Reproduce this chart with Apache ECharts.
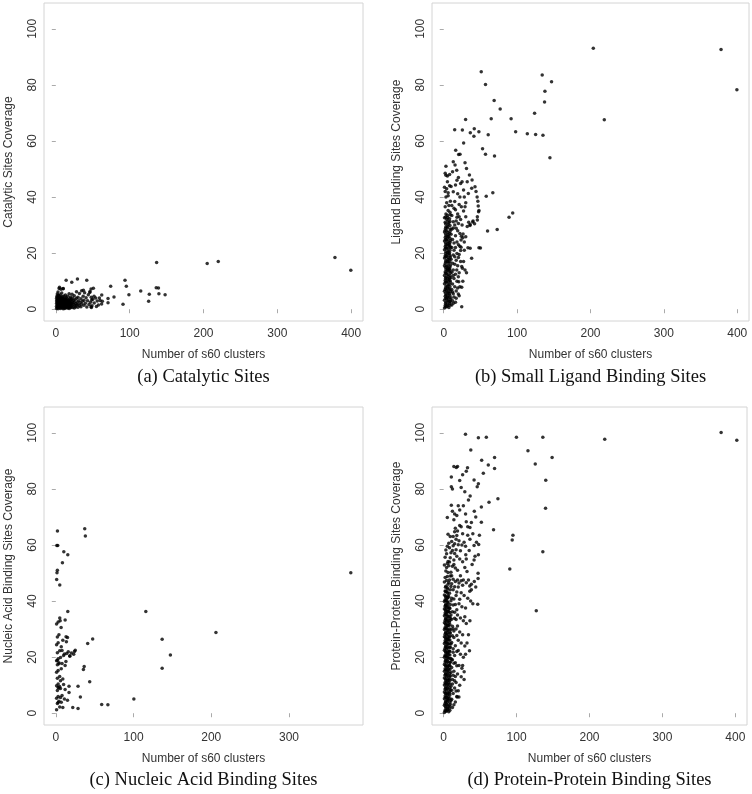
<!DOCTYPE html>
<html><head><meta charset="utf-8">
<script src="https://cdn.jsdelivr.net/npm/echarts@6/dist/echarts.min.js"></script>
<style>html,body{margin:0;padding:0;background:#fff}#c{width:752px;height:794px}</style>
</head><body><div id="c"></div>
<script>
// ---------- data ----------
const xTicksFull = [0, 100, 200, 300, 400];
const xTicksNucleic = [0, 100, 200, 300];
const yTicks = [0, 20, 40, 60, 80, 100];
const xAxisTitle = 'Number of s60 clusters';
const yTitles = ['Catalytic Sites Coverage', 'Ligand Binding Sites Coverage', 'Nucleic Acid Binding Sites Coverage', 'Protein-Protein Binding Sites Coverage'];
const captions = ['(a) Catalytic Sites', '(b) Small Ligand Binding Sites', '(c) Nucleic Acid Binding Sites', '(d) Protein-Protein Binding Sites'];

const catalyticPoints = [
[378,18.4],[399.5,13.9],[205,16.3],[220,17],[136.5,16.7],[93.7,10.3],[95.5,8.2],[99,5.2],[91,1.8],[74.3,8.2],[78.8,4.4],[70.7,3.8],[70.7,2.3],[115,6.5],[126.6,5.3],[125.7,2.8],[136,7.7],[139,7.6],[139.6,5.5],[148,5.2],[63,2.8],[57.7,1.5],[59,4],[51.8,4.6],[47.7,7.2],[50.9,7.5],[41.9,10.3],[29.3,10.8],[14,10.3],[21.6,9.6],[4.5,7.4],[9.9,7.3],[48.2,0.6],[37.4,6.8],[46.3,6.3],[62.2,5.1],[47.7,0.9],[48.6,3.3],
[1,0.3],[1,1.1],[1,2.0],[1,2.9],[1,3.8],[1.5,4.6],[2,0.6],[2,1.5],[2,2.4],[2,3.3],[2,4.2],[2,5.4],[3,0.2],[3,1.0],[3,1.9],[3,2.8],[3,3.7],[3,4.9],[3,6.1],[4,0.5],[4,1.4],[4,2.3],[4,3.1],[4,4.0],[4,5.0],[5,0.8],[5,1.7],[5,2.6],[5,3.5],[5,4.4],[5,7.8],[6,0.3],[6,1.2],[6,2.1],[6,3.0],[6,3.9],[6,5.2],[7,0.7],[7,1.6],[7,2.5],[7,3.4],[7,4.3],[7,7.1],[8,0.4],[8,1.3],[8,2.2],[8,3.1],[8,4.0],[8,5.8],[9,0.9],[9,1.8],[9,2.7],[9,3.6],[9,4.5],[10,0.2],[10,1.1],[10,2.0],[10,2.9],[10,3.8],[10,7.4],[11,0.6],[11,1.5],[11,2.4],[11,3.3],[11,4.7],[12,0.3],[12,1.2],[12,2.1],[12,3.0],[12,3.9],[13,0.8],[13,1.7],[13,2.6],[13,3.5],[13,5.1],[14,0.5],[14,1.4],[14,2.3],[14,3.2],[14,4.2],[15,0.9],[15,1.9],[15,2.8],[15,3.7],[16,0.4],[16,1.3],[16,2.2],[16,3.1],[16,4.6],[17,0.7],[17,1.6],[17,2.5],[17,3.4],[18,0.3],[18,1.1],[18,2.0],[18,2.9],[18,5.5],[19,0.8],[19,1.7],[19,2.6],[19,3.8],[20,0.5],[20,1.4],[20,2.3],[20,3.3],[20,4.4],
[21,0.9],[21,2.1],[21,3.6],[22,1.4],[22,2.8],[22,5.3],[23,0.6],[23,2.2],[23,4.0],[24,1.7],[24,3.1],[25,0.4],[25,2.5],[25,4.8],[26,1.2],[26,3.4],[27,0.8],[27,2.0],[28,1.5],[28,3.9],[28,6.2],[29,2.6],[30,0.7],[30,1.8],[30,4.3],[31,3.0],[32,1.3],[32,5.6],[33,2.4],[34,0.9],[34,3.7],[35,1.9],[35,6.6],[36,2.8],[37,4.6],[38,1.4],[38,3.2],[39,5.9],[40,2.1],[41,4.1],[42,0.8],[43,3.0],[44,5.2],[45,1.7],[46,6.0],[47,2.5],[48,4.3],[49,1.2],[50,3.6],[52,2.2],[54,4.0],[55,1.0],[56,2.9],[60,3.1],[62,1.9]
];

const ligandPoints = [
[203.8,93.1],[377.9,92.6],[399.5,78.3],[218.8,67.6],[134.2,83.5],[146.9,81.1],[137.9,77.7],[137.4,73.9],[123.8,69.9],[113.9,62.6],[125.2,62.3],[135.2,62],[144.7,54],[98,63.3],[91.8,67.9],[94,34.3],[89,32.8],[72.8,28.4],[59.7,27.9],[66.9,41.5],[57.9,40.3],[51.1,84.7],[56.9,80.1],[68.7,74.4],[76.9,71.4],[64.7,67.9],[60.6,62.2],[69.2,54.6],[56.9,55.3],[52.9,57.2],[47.9,63.3],[41.6,64.4],[41.1,61.7],[36.2,62.9],[25.4,63.9],[14.9,64],[29.8,67.7],[27.1,59.3],[16.3,56.7],[20.3,55.2],
[22.2,55.3],[13,52.6],[15.4,51.4],[17.7,49.6],[29,52.2],[31,50.2],[35,47.9],[38.6,46.1],[38.1,43.1],[33.5,41.3],[42.6,43.7],[44,42],[45.5,40],[46.5,38.5],[47,36.8],[48,35.2],[47.5,34.8],[45.8,33],[45.8,31.8],[39.5,31.1],[35.8,29.9],[33,21.9],[36,21.7],[38,18.2],[26.3,26.8],[23.6,24.7],[23.6,22.1],[23,20.9],[24.5,15.2],[25.5,14.6],[17.7,14],[19.9,11.6],[20.5,9.8],[24.5,7.8],[8.6,2.7],[13.1,2.1],[24.5,0.9],[19.9,5.4],[50,21.8],[48,21.9],[42,30.5],[40,31.5],[30,33],[28,40],[27,42.5],[25,45.5],[32,45.5],[30,38],[22,40],[20,47],[18,46],[12,49],[8,48],[3,51],[5,47.5],[4,43],[2,42],[6,40.5],[9,38.5],[11,37],[14,36],[16,35.5],[19,34],[21,33],[17,31.5],[15,30],[13,29],[11,28.5],[19,28],[22,27],[24,26],[26,25.5],[18,24],[20,23],[16,22],[14,21],[21,19.5],[23,17],[17,17.5],[15,16],[19,15.5],[13,14],[16,12.5],[14,11],[18,10],[12,9],[15,8],[11,7],[17,6.5],[13,5.5],[10,4],[12,3],[16,2.5],[28,24],[30,25.8],[32,29.5],[34,31],[36,30.2],[27,17],[29,14],[31,13],[21,13],[26,10],[22,8],[28,21],[25,30],[23,32],[27,35],[29,36.5],
[11,33.4],[13,31.2],[10,26.7],[12,24.9],[14,23.6],[11,22.0],[13,19.3],[10,17.8],[12,16.4],[11,13.2],[13,12.0],[10,11.3],[12,6.1],[14,4.4],[11,1.5],[15,18.7],[16,26.2],[17,28.9],[18,32.8],[20,30.6],[15,38.4],[13,41.9],[10,43.8],[16,44.3],[19,41.2],[21,37.3],[23,44.8],[24,36.5],[22,22.5],[20,18.4],[18,19.9],[19,7.6],[17,3.9],[21,4.8],
[1,0.4],[2,1.3],[3,2.5],[1,3.2],[2,4.6],[3,5.1],[1,6.4],[2,7.0],[3,8.3],[1,9.1],[2,10.2],[3,11.4],[1,12.0],[2,13.3],[3,14.1],[1,15.5],[2,16.2],[3,17.4],[1,18.3],[2,19.1],[3,20.5],[1,21.2],[2,22.4],[3,23.0],[1,24.3],[2,25.6],[3,26.1],[1,27.5],[2,28.2],[3,29.4],[2,31.0],[1,32.6],[3,34.0],
[4,0.9],[5,1.8],[6,2.9],[4,3.7],[5,4.3],[6,5.8],[4,6.8],[5,7.6],[6,8.7],[4,9.6],[5,10.9],[6,11.8],[4,12.7],[5,13.8],[6,14.6],[4,15.2],[5,16.8],[6,17.7],[4,18.9],[5,19.6],[6,20.8],[4,21.7],[5,22.9],[6,23.5],[4,24.8],[5,25.2],[6,26.6],[4,27.9],[5,29.0],[6,30.3],[4,32.1],[5,33.5],[6,35.2],
[7,0.6],[8,2.0],[9,3.4],[7,4.1],[8,5.5],[9,6.2],[7,7.3],[8,8.9],[9,9.7],[7,10.6],[8,11.1],[9,12.9],[7,13.5],[8,14.4],[9,15.7],[7,16.5],[8,17.9],[9,18.6],[7,19.8],[8,20.1],[9,21.9],[7,22.7],[8,23.3],[9,24.5],[7,25.9],[8,27.0],[9,28.6],[7,30.8],[8,32.3],[9,33.7],
[2,36.5],[4,38],[7,37],[3,40],[6,41.5],[1,43.5],[8,44],[5,45.5],[3,47.8],[2,48.5],
[2.5,0.9],[5.5,1.2],[8.5,1.4],[2.5,2.0],[5.5,3.0],[8.5,2.7],[2.5,3.9],[5.5,5.0],[8.5,4.8],[2.5,5.7],[5.5,6.2],[8.5,6.9],[2.5,7.6],[5.5,8.2],[8.5,8.0],[2.5,9.7],[5.5,9.9],[8.5,10.2],[2.5,11.0],[5.5,12.3],[8.5,12.0],[2.5,12.8],[5.5,14.3],[8.5,13.9],[2.5,14.9],[5.5,15.6],[8.5,15.1],[2.5,16.8],[5.5,17.1],[8.5,16.9],[2.5,18.7],[5.5,18.4],[8.5,19.2],[2.5,19.9],[5.5,20.3],[8.5,21.0],[2.5,21.8],[5.5,21.7],[8.5,22.5],[2.5,23.6],[5.5,24.2],[8.5,23.9],[2.5,24.9],[5.5,26.0],[8.5,25.3],[2.5,26.8],[5.5,27.4],[8.5,27.8],[2.5,28.9],[5.5,29.6],[8.5,29.9],[2.5,30.5],[5.5,31.5],[8.5,31.3],[2.5,32.9],[5.5,32.7],[8.5,34.6]
];

const nucleicPoints = [
[379.5,50.1],[115.8,36.3],[136.8,26.4],[136.8,16],[147.4,20.8],[206,28.8],[100.4,5.1],[59,3.1],[67,3],[37.2,65.8],[38,63.2],[47.4,26.5],[41,24.9],[36.5,16.7],[35.5,15.6],[43.6,11.2],[31.6,5.8],[28.6,9.6],[28.6,1.7],[21.8,2],[17,9.6],[17,7.4],[15,4.6],[9,2],[15.4,36.3],[12,33.2],[13.2,27.3],[13.6,25.5],[6.8,30.6],[5.1,34],[5.6,33],[2.1,65],[1.3,59.8],[2.5,59.8],[10.3,57.6],[15.4,56.5],[8.5,53.7],[2,51],[1.5,50.1],[1.1,47.7],[5.1,45.7],[20,21.5],[23,21],[24,22],[18,20.5],[25,22.5],
[1,1.2],[2,3.5],[1,5.3],[3,6.0],[2,8.1],[4,9.0],[1,9.8],[3,10.4],[2,12.5],[5,13.1],[1,14.6],[3,15.2],[2,17.3],[4,18.0],[1,18.7],[3,19.4],[6,19.9],[2,21.6],[5,22.3],[1,24.4],[3,25.1],[2,27.2],[4,28.0],[1,31.8],[3,32.5],[7,3.9],[8,6.3],[6,8.8],[9,12.2],[7,15.9],[8,17.7],[10,20.6],[11,21.1],[7,23.7],[9,26.0],[12,17.0],[13,18.4],[14,21.3],[11,5.1],[12,8.5],[10,10.2],[6,11.6],[5,2.2],[4,4.3],[16,21.9],[18,20.3],[15,27.0],[3,9.2],[5,9.5],[2,18.9],[4,17.6],[6,5.6],[3,3.8],[8,22.4]
];

const proteinPoints = [
[380.5,100.1],[402,97.3],[220.9,97.7],[136,98.4],[99.8,98.4],[58.5,98.4],[47.6,98.2],[29.9,99.5],[115.6,93.6],[125.6,88.9],[148.7,91.2],[140,83.1],[139.7,73.1],[136,57.6],[127,36.5],[90.7,51.4],[94,61.8],[95,63.5],[74.4,76.5],[62.2,75.2],[68.4,65.4],[69.8,91.2],[69.8,87.3],[61.2,88.5],[54.4,85.6],[52.1,90.2],[51.7,73.5],[51.7,68.1],[48,60.2],[49,63.5],[47.6,56.5],[47.2,49.9],[47.2,48],[46.7,38.9],[37.2,93.9],[32.7,87.5],[31,86.3],[41.7,83.2],[47.6,81.8],[46,80.8],[36.3,77.5],[31,68.3],[33,66.5],[36,66.2],[41.7,59.8],[41.7,54.6],[30.3,56.5],[31,55],[35.8,45.4],[35.8,43.5],[35.4,22.3],[29,34.4],[28.1,14.8],[20.9,5.8],[18.5,5.8],[17.3,87.6],[19,88],[10.5,84.2],[10.5,80.8],[10.5,74.2],[5,69.8],
[12,72],[15,71],[18,70.5],[14,69],[20,74],[22,72.5],[16,66],[19,65],[24,66.5],[26,64],[13,63],[17,62],[21,61.5],[25,60],[28,61],[30,59.5],[33,63.5],[36,62],[12,58],[15,57],[18,56],[22,55],[26,54],[29,52],[32,50.5],[14,53],[19,51],[23,49],[27,47.5],[31,46.5],[34,47.5],[38,46],[11,49],[16,47],[20,45],[24,43],[28,42],[33,41],[37,40],[13,44],[17,42],[21,39],[25,38],[30,37.5],[15,36],[19,35],[23,34],[27,33],[31,32],[12,31],[17,30],[22,29],[26,28],[14,27],[20,26],[24,25],[29,24],[13,23],[18,22],[23,21],[27,20],[11,19],[16,18],[21,17],[25,16],[14,15],[19,14],[24,13],[12,12],[17,11],[22,10],[15,9],[20,8],[13,7],[18,6],[11,5],[16,4],[14,3],[12,2],[40,39],[36,33],[34,28],[32,25],[30,21],[26,17],[28,12],[38,44],[42,47],[44,45],[39,53],[43,56],[35,58],[45,61],[40,64],[38,68],[44,70],[42,72],[30,71],[27,74],[34,76],[29,79],[24,80.5],[22,83],[26,85],[14,88],[12,80],
[11,46.2],[13,47.8],[15,45.1],[12,52.4],[14,54.6],[16,51.8],[13,59.7],[11,61.2],[15,60.4],[17,58.3],[19,47.5],[21,46.4],[18,43.2],[11,41.0],[13,38.6],[12,36.2],[11,33.5],[13,30.1],[12,27.6],[11,25.2],[13,21.7],[12,19.1],[11,16.3],[13,13.5],[12,10.4],[11,8.2],[14,40.7],[16,38.8],[15,33.9],[14,29.3],[16,24.1],[15,20.6],[14,17.8],[16,13.1],[15,11.6],[17,7.9],[18,36.9],[17,33.4],[19,31.1],[18,27.7],[20,22.4],[18,16.9],[22,40.6],[24,47.2],[26,45.6],[23,57.9],[20,60.1],[18,63.4],[22,66.9],[15,64.7],
[1,0.3],[2,1.1],[3,1.9],[1,2.8],[2,3.5],[3,4.4],[1,5.2],[2,6.1],[3,6.9],[1,7.6],[2,8.5],[3,9.4],[1,10.1],[2,11.0],[3,11.7],[1,12.6],[2,13.5],[3,14.2],[1,15.0],[2,15.9],[3,16.8],[1,17.4],[2,18.3],[3,19.2],[1,20.0],[2,20.7],[3,21.6],[1,22.5],[2,23.2],[3,24.1],[1,24.9],[2,25.8],[3,26.5],[1,27.3],[2,28.2],[3,29.0],[1,29.9],[2,30.6],[3,31.5],[1,32.3],[2,33.1],[3,34.0],[1,34.8],[2,35.7],[3,36.4],[1,37.2],[2,38.1],[3,38.9],[1,39.8],[2,40.5],[3,41.4],[1,42.2],[2,43.6],[3,45.3],[1,46.8],[2,48.4],[3,50.7],[1,52.9],[2,55.6],[3,58.2],
[4,0.8],[5,1.6],[6,2.4],[4,3.3],[5,4.0],[6,4.9],[4,5.7],[5,6.5],[6,7.3],[4,8.1],[5,9.0],[6,9.8],[4,10.6],[5,11.4],[6,12.3],[4,13.0],[5,13.9],[6,14.7],[4,15.5],[5,16.3],[6,17.2],[4,18.0],[5,18.8],[6,19.7],[4,20.4],[5,21.2],[6,22.1],[4,22.9],[5,23.7],[6,24.6],[4,25.3],[5,26.2],[6,27.0],[4,27.8],[5,28.7],[6,29.5],[4,30.3],[5,31.1],[6,32.0],[4,32.8],[5,33.6],[6,34.5],[4,35.3],[5,36.1],[6,37.0],[4,37.7],[5,38.6],[6,39.4],[4,40.2],[5,41.0],[6,42.0],[4,43.2],[5,44.7],[6,46.0],[4,47.3],[5,48.8],[6,50.2],[4,52.0],[5,53.4],[6,54.1],[4,56.9],[5,59.5],
[7,0.5],[8,1.9],[9,3.2],[10,4.5],[7,5.9],[8,7.1],[9,8.4],[10,9.6],[7,10.9],[8,12.1],[9,13.4],[10,14.6],[7,15.8],[8,17.0],[9,18.2],[10,19.5],[7,20.9],[8,22.2],[9,23.5],[10,24.7],[7,26.0],[8,27.2],[9,28.5],[10,29.8],[7,31.2],[8,32.5],[9,33.8],[10,35.0],[7,36.3],[8,37.6],[9,38.8],[10,40.1],[7,41.5],[8,42.8],[9,44.0],[10,45.2],[7,46.6],[8,47.5],[9,48.9],[10,50.3],[7,52.6],[8,53.9],[9,55.4],[10,57.2],[8,59.0],[7,60.6],[9,63.0],[6,63.8],
[2.5,0.7],[5.5,1.2],[8.5,1.1],[2.5,2.4],[5.5,2.9],[8.5,2.6],[2.5,4.0],[5.5,4.6],[8.5,3.9],[2.5,5.6],[5.5,5.3],[8.5,5.2],[2.5,7.1],[5.5,6.9],[8.5,6.5],[2.5,8.9],[5.5,8.6],[8.5,7.8],[2.5,10.5],[5.5,10.2],[8.5,9.1],[2.5,12.2],[5.5,11.8],[8.5,10.4],[2.5,13.9],[5.5,13.4],[8.5,11.7],[2.5,15.4],[5.5,15.1],[8.5,13.0],[2.5,17.0],[5.5,16.7],[8.5,14.2],[2.5,18.7],[5.5,18.4],[8.5,15.6],[2.5,20.3],[5.5,20.0],[8.5,16.9],[2.5,22.0],[5.5,21.6],[8.5,18.1],[2.5,23.7],[5.5,23.3],[8.5,19.5],[2.5,25.3],[5.5,24.9],[8.5,20.8],[2.5,27.0],[5.5,26.6],[8.5,22.0],[2.5,28.6],[5.5,28.1],[8.5,23.4],[2.5,30.2],[5.5,29.8],[8.5,24.8],[2.5,31.9],[5.5,31.4],[8.5,26.1],[2.5,33.6],[5.5,33.0],[8.5,27.5],[2.5,35.2],[5.5,34.7],[8.5,28.9],[2.5,36.9],[5.5,36.3],[8.5,30.0],[2.5,38.5],[5.5,38.0],[8.5,31.6],[2.5,40.1],[5.5,39.7],[8.5,33.1],[2.5,41.8],[5.5,41.3],[8.5,34.4],[2.5,43.4],[5.5,43.0],[8.5,35.9],[2.5,44.9],[5.5,44.2],[8.5,37.3]
];

// ---------- chart ----------
const panels = [
  {pts: catalyticPoints, xt: xTicksFull, xmin: -16, xmax: 416, grid: {left: 44, top: 3, width: 319, height: 318}},
  {pts: ligandPoints, xt: xTicksFull, xmin: -16, xmax: 416, grid: {left: 432, top: 3, width: 317, height: 318}},
  {pts: nucleicPoints, xt: xTicksNucleic, xmin: -15.2, xmax: 395.2, grid: {left: 44, top: 407, width: 319, height: 318}},
  {pts: proteinPoints, xt: xTicksFull, xmin: -16, xmax: 416, grid: {left: 432, top: 407, width: 315, height: 318}}
];
const sans = 'Liberation Sans, Arial, Helvetica, sans-serif';
const lblCol = '#333';
const lineCol = '#d4d4d4';

const option = {
  animation: false,
  backgroundColor: '#fff',
  grid: panels.map(p => Object.assign({show: true, borderColor: lineCol, borderWidth: 1, backgroundColor: 'transparent'}, p.grid)),
  xAxis: panels.map((p, i) => ({
    type: 'value', gridIndex: i, min: p.xmin, max: p.xmax,
    splitLine: {show: false}, axisLine: {show: false},
    axisTick: {show: true, customValues: p.xt, length: 4, lineStyle: {color: '#aaa'}},
    axisLabel: {customValues: p.xt, color: lblCol, fontSize: 12, fontFamily: sans, margin: 7},
    name: xAxisTitle, nameLocation: 'middle', nameGap: 28,
    nameTextStyle: {color: lblCol, fontSize: 12, fontFamily: sans}
  })),
  yAxis: panels.map((p, i) => ({
    type: 'value', gridIndex: i, min: -4.2, max: 109.2,
    splitLine: {show: false}, axisLine: {show: false},
    axisTick: {show: true, customValues: yTicks, length: 4, lineStyle: {color: '#aaa'}},
    axisLabel: {show: false},
    name: yTitles[i], nameLocation: 'middle', nameGap: 29,
    nameTextStyle: {color: lblCol, fontSize: 12, fontFamily: sans}
  })),
  title: captions.map((t, i) => ({
    text: t, left: panels[i].grid.left + panels[i].grid.width / 2, top: i < 2 ? 368 : 771,
    textAlign: 'center', padding: 0,
    textStyle: {fontFamily: 'Liberation Serif, Times New Roman, serif', fontSize: 18.5, fontWeight: 'normal', color: '#111'}
  })),
  series: panels.map((p, i) => ({
    type: 'scatter', xAxisIndex: i, yAxisIndex: i, data: p.pts,
    symbol: 'circle', symbolSize: 3.5, itemStyle: {color: '#000'}, silent: true
  }))
};
const chart = echarts.init(document.getElementById('c'), null, {renderer: 'canvas'});
chart.setOption(option);

// rotated y tick labels (reading bottom-to-top), placed through the axis scale
const yLabelGraphics = [];
panels.forEach((p, i) => {
  yTicks.forEach(v => {
    const pix = chart.convertToPixel({gridIndex: i}, [0, v]);
    yLabelGraphics.push({
      type: 'text', x: p.grid.left - 11, y: pix[1], rotation: Math.PI / 2, silent: true,
      style: {text: String(v), fill: lblCol, font: '12px ' + sans, align: 'center', verticalAlign: 'middle'}
    });
  });
});
chart.setOption({graphic: {elements: yLabelGraphics}});
</script></body></html>
